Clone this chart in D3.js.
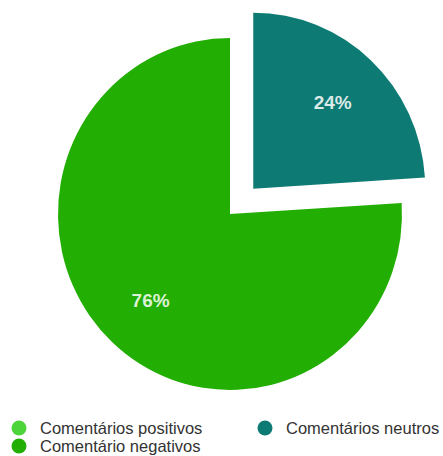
<!DOCTYPE html>
<html>
<head>
<meta charset="utf-8">
<script src="https://cdn.jsdelivr.net/npm/d3@7"></script>
<style>
  body { margin: 0; background: #fff; }
  text { font-family: "Liberation Sans", Arial, sans-serif; }
</style>
</head>
<body>
<script>
var categories = ["Comentários positivos", "Comentários neutros", "Comentário negativos"];
var values = [0, 24, 76];
var colors = ["#4cd43a", "#0d7a73", "#22ae02"];

var width = 443, height = 456;
var cx = 230, cy = 214;
var radius = 172;
var stretchY = 1.023; // picture is a touch taller than wide
var explode = 34;
var labelRadius = 116;

var svg = d3.select("body")
    .append("svg")
    .attr("width", width)
    .attr("height", height);

var pie = d3.pie().sort(null).value(function(d){ return d; });
var arcs = pie(values);

var arc = d3.arc().innerRadius(0).outerRadius(radius);

var g = svg.append("g")
    .attr("transform", "translate(" + cx + "," + cy + ")");

function offset(d, dist){
    var a = (d.startAngle + d.endAngle) / 2;
    return [Math.sin(a) * dist, -Math.cos(a) * dist * stretchY];
}

var slices = g.selectAll("g.slice")
    .data(arcs)
    .enter()
    .append("g")
    .attr("class", "slice")
    .attr("transform", function(d, i){
        var o = i == 1 ? offset(d, explode) : [0, 0];
        return "translate(" + o[0] + "," + o[1] + ")";
    });

slices.append("path")
    .attr("d", arc)
    .attr("transform", "scale(1," + stretchY + ")")
    .attr("fill", function(d, i){ return colors[i]; });

slices.filter(function(d){ return d.value > 0; })
    .append("text")
    .attr("x", function(d){ return offset(d, labelRadius)[0]; })
    .attr("y", function(d){ return offset(d, labelRadius)[1]; })
    .attr("text-anchor", "middle")
    .attr("dominant-baseline", "central")
    .attr("fill", "#ffffff")
    .attr("fill-opacity", 0.85)
    .attr("font-size", 19)
    .attr("font-weight", "bold")
    .text(function(d){ return d.value + "%"; });

// legend, two columns
var legend = svg.selectAll("g.legend")
    .data(categories)
    .enter()
    .append("g")
    .attr("class", "legend")
    .attr("transform", function(d, i){
        var col = i == 1 ? 1 : 0;
        var row = i == 2 ? 1 : 0;
        return "translate(" + (19 + col * 246) + "," + (428 + row * 18) + ")";
    });

legend.append("circle")
    .attr("r", 7.5)
    .attr("fill", function(d, i){ return colors[i]; });

legend.append("text")
    .attr("x", 21)
    .attr("dominant-baseline", "central")
    .attr("font-size", 16.5)
    .attr("fill", "#333")
    .text(function(d){ return d; });
</script>
</body>
</html>
